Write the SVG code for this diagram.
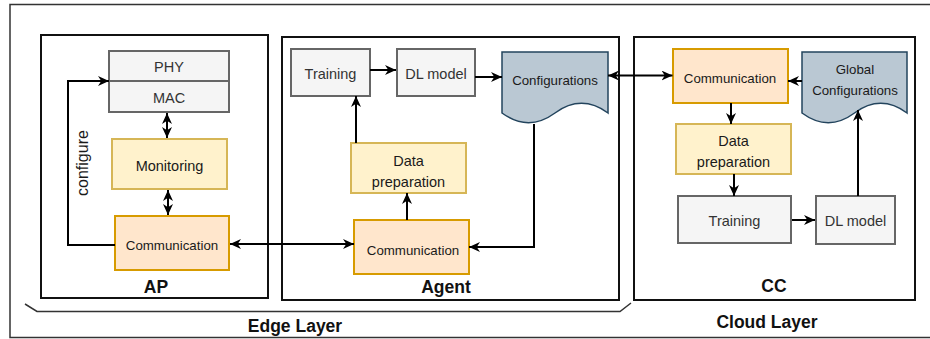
<svg xmlns="http://www.w3.org/2000/svg" width="930" height="339" viewBox="0 0 930 339">
<style>
text{font-family:"Liberation Sans",Arial,sans-serif;text-anchor:middle;dominant-baseline:central}
.gray{fill:#f5f5f5;stroke:#666666;stroke-width:2}
.gray-t{fill:#333333;font-size:14.5px}
.yel{fill:#fff2cc;stroke:#d6b656;stroke-width:2}
.org{fill:#ffe6cc;stroke:#d79b00;stroke-width:2}
.doc{fill:#bac8d3;stroke:#23445d;stroke-width:1.5}
.t{fill:#1a1a1a;font-size:14.5px}
.ts{fill:#1a1a1a;font-size:13.3px}
.cont{fill:none;stroke:#111111;stroke-width:2}
.lbl{font-weight:bold;font-size:17.5px;fill:#111111;dominant-baseline:alphabetic}
.edge{fill:none;stroke:#000000;stroke-width:2}
</style>
<defs>
<marker id="ah" viewBox="0 0 11 10" refX="11" refY="5" markerWidth="11" markerHeight="10" orient="auto-start-reverse" markerUnits="userSpaceOnUse">
<path d="M0,0 L11,5 L0,10 L3.3,5 z" fill="#000000"/>
</marker>
</defs>

<g id="frame">
<rect x="10" y="4.5" width="930" height="333" fill="none" stroke="#333333" stroke-width="1.5"/>
<path d="M25,304 L37,311.5 L620,311.5 L631,303" fill="none" stroke="#333333" stroke-width="1.5"/>
<text class="lbl" x="295" y="332">Edge Layer</text>
<text class="lbl" x="767" y="328">Cloud Layer</text>
</g>

<g id="ap">
<rect class="cont" x="41" y="35" width="227" height="263"/>
<text class="lbl" x="156" y="293">AP</text>
</g>
<g id="agent">
<rect class="cont" x="282" y="37" width="337" height="263"/>
<text class="lbl" x="446" y="293">Agent</text>
</g>
<g id="cc">
<rect class="cont" x="634" y="37" width="281" height="263"/>
<text class="lbl" x="774" y="292">CC</text>
</g>

<g id="ap-phy">
<rect class="gray" x="109" y="51" width="120" height="30"/>
<text class="gray-t" x="169" y="67">PHY</text>
</g>
<g id="ap-mac">
<rect class="gray" x="109" y="81" width="120" height="31"/>
<text class="gray-t" x="169" y="98">MAC</text>
</g>
<g id="ap-monitoring">
<rect class="yel" x="112" y="139" width="115" height="50"/>
<text class="t" x="169.5" y="166">Monitoring</text>
</g>
<g id="ap-communication">
<rect class="org" x="115" y="216" width="114" height="54"/>
<text class="ts" x="172" y="245">Communication</text>
</g>

<g id="agent-training">
<rect class="gray" x="291" y="49" width="79" height="47"/>
<text class="gray-t" x="330.5" y="74">Training</text>
</g>
<g id="agent-dlmodel">
<rect class="gray" x="397" y="49" width="78" height="47"/>
<text class="gray-t" x="436" y="74">DL model</text>
</g>
<g id="agent-configurations">
<path class="doc" d="M502,52 L608,52 L608,113 Q581.5,93.7 555,113 Q528.5,132.4 502,113 Z"/>
<text class="ts" x="555" y="80">Configurations</text>
</g>
<g id="agent-datapreparation">
<rect class="yel" x="351" y="143" width="115" height="50"/>
<text class="t" x="408.5" y="161">Data</text>
<text class="t" x="408.5" y="182">preparation</text>
</g>
<g id="agent-communication">
<rect class="org" x="354" y="220" width="115" height="54"/>
<text class="ts" x="413" y="250">Communication</text>
</g>

<g id="cc-communication">
<rect class="org" x="673" y="49" width="115" height="54"/>
<text class="ts" x="730" y="78">Communication</text>
</g>
<g id="cc-globalconfigurations">
<path class="doc" d="M802,52 L907,52 L907,113 Q880.75,93.7 854.5,113 Q828.25,132.4 802,113 Z"/>
<text class="ts" x="855" y="69">Global</text>
<text class="ts" x="855" y="90">Configurations</text>
</g>
<g id="cc-datapreparation">
<rect class="yel" x="676" y="124" width="115" height="50"/>
<text class="t" x="733.5" y="141">Data</text>
<text class="t" x="733.5" y="162">preparation</text>
</g>
<g id="cc-training">
<rect class="gray" x="678" y="196" width="113" height="47"/>
<text class="gray-t" x="734.5" y="221">Training</text>
</g>
<g id="cc-dlmodel">
<rect class="gray" x="816" y="196" width="79" height="48"/>
<text class="gray-t" x="855.5" y="221">DL model</text>
</g>

<g id="connectors">
<path class="edge" d="M167,113 L167,138" marker-start="url(#ah)" marker-end="url(#ah)"/>
<path class="edge" d="M168,190 L168,215" marker-start="url(#ah)" marker-end="url(#ah)"/>
<path class="edge" d="M115,245 L68,245 L68,81 L109,81" marker-end="url(#ah)"/>
<text x="82" y="163" transform="rotate(-90 82 163)" style="font-size:16px;fill:#1a1a1a">configure</text>
<path class="edge" d="M230,244 L354,244" marker-start="url(#ah)" marker-end="url(#ah)"/>
<path class="edge" d="M407,220 L407,193" marker-end="url(#ah)"/>
<path class="edge" d="M356,143 L356,96" marker-end="url(#ah)"/>
<path class="edge" d="M370,70 L396,70" marker-end="url(#ah)"/>
<path class="edge" d="M475,77 L502,77" marker-end="url(#ah)"/>
<path class="edge" d="M534,124 L534,247 L469,247" marker-end="url(#ah)"/>
<path class="edge" d="M608,75.5 L672.5,75.5" marker-start="url(#ah)" marker-end="url(#ah)"/>
<path class="edge" d="M802,81 L788,81" marker-end="url(#ah)"/>
<path class="edge" d="M731,103 L731,124" marker-end="url(#ah)"/>
<path class="edge" d="M734,174 L734,196" marker-end="url(#ah)"/>
<path class="edge" d="M792,220 L815,220" marker-end="url(#ah)"/>
<path class="edge" d="M858,196 L858,110" marker-end="url(#ah)"/>
</g>
</svg>
